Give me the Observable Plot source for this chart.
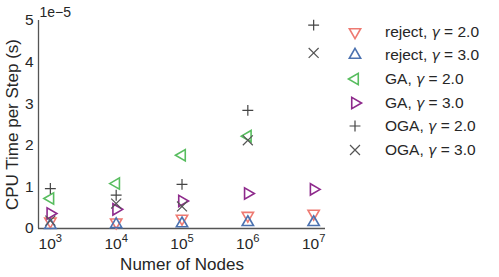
<!DOCTYPE html>
<html>
<head>
<meta charset="utf-8">
<script src="https://cdn.jsdelivr.net/npm/d3@7"></script>
<script src="https://cdn.jsdelivr.net/npm/@observablehq/plot@0.6"></script>
<style>
  html, body { margin: 0; padding: 0; background: #fff; }
  #wrap { position: relative; width: 499px; height: 277px; font-family: "Liberation Sans", Arial, sans-serif; color: #262626; }
  #legend { position: absolute; left: 340px; top: 20px; }
  .row { display: flex; align-items: center; height: 23.6px; font-size: 15.5px; white-space: nowrap; }
  .row svg { width: 30px; height: 24px; margin-right: 15px; }
  .row i { font-family: "DejaVu Sans", sans-serif; font-size: 14px; }
</style>
</head>
<body>
<div id="wrap"><div id="chart"></div><div id="legend"></div></div>
<script>
// ---- data (CPU time per step, in units of 1e-5 s) ----
const nodes = [1e3, 1e4, 1e5, 1e6, 1e7];
const rejectG2 = [0.17, 0.15, 0.24, 0.31, 0.36];
const rejectG3 = [0.08, 0.10, 0.12, 0.15, 0.15];
const gaG2 = [0.72, 1.08, 1.76, 2.22, null];
const gaG3 = [0.36, 0.46, 0.66, 0.84, 0.94];
const ogaG2 = [0.96, 0.80, 1.06, 2.84, 4.89];
const ogaG3 = [0.19, 0.60, 0.53, 2.12, 4.22];
const yTicks = [0, 1, 2, 3, 4, 5];
const seriesNames = ["reject", "reject", "GA", "GA", "OGA", "OGA"];
const gammas = ["2.0", "3.0", "2.0", "3.0", "2.0", "3.0"];

const styles = [
  {symbol: "triangle", rotate: 180, color: "#ee7a72", r: 4.2, sw: 1.6},
  {symbol: "triangle", rotate: 0,   color: "#4c72b0", r: 4.2, sw: 1.6},
  {symbol: "triangle", rotate: -90, color: "#58bd5f", r: 4.2, sw: 1.6},
  {symbol: "triangle", rotate: 90,  color: "#8e2a8c", r: 4.2, sw: 1.6},
  {symbol: "plus",     rotate: 0,   color: "#444444", r: 3.6, sw: 1.2},
  {symbol: "times",    rotate: 0,   color: "#555555", r: 4.6, sw: 1.2}
];
const allValues = [rejectG2, rejectG3, gaG2, gaG3, ogaG2, ogaG3];

const xDomain = [10 ** 2.82, 10 ** 7.18];

const dotMarks = allValues.map((vals, k) => {
  const rows = nodes.map((n, i) => ({n, v: vals[i]})).filter(d => d.v != null);
  const s = styles[k];
  return Plot.dot(rows, {
    x: "n", y: "v", symbol: s.symbol, r: s.r, rotate: s.rotate,
    stroke: s.color, strokeWidth: s.sw, fill: "none"
  });
});

const plot = Plot.plot({
  width: 499,
  height: 277,
  marginLeft: 38,
  marginRight: 174,
  marginTop: 20,
  marginBottom: 49,
  style: {fontFamily: "Liberation Sans, Arial, sans-serif", color: "#262626", background: "#fff", overflow: "visible"},
  x: {type: "log", domain: xDomain},
  y: {domain: [0, 5]},
  marks: [
    Plot.axisY({ticks: yTicks, tickSize: 0, tickPadding: 5, fontSize: 15.5, label: null, tickFormat: d => String(d)}),
    Plot.axisX({ticks: nodes, tickSize: 0, tickPadding: 9, fontSize: 15.5, label: null, className: "xt",
      tickFormat: d => String(Math.round(Math.log10(d)))}),
    Plot.ruleX([xDomain[0]], {stroke: "#555", strokeWidth: 1.3}),
    Plot.ruleY([0], {stroke: "#555", strokeWidth: 1.3}),
    ...dotMarks,
    Plot.text(["1e\u22125"], {frameAnchor: "top-left", textAnchor: "start", lineAnchor: "middle", dx: 1, dy: -8, fontSize: 14}),
    Plot.text(["Numer of Nodes"], {frameAnchor: "bottom", textAnchor: "middle", lineAnchor: "middle", dy: 36, fontSize: 17}),
    Plot.text(["CPU Time per Step (s)"], {frameAnchor: "left", textAnchor: "middle", lineAnchor: "middle", dx: -26, rotate: -90, fontSize: 17})
  ]
});
document.getElementById("chart").appendChild(plot);

// superscript exponents on x tick labels
d3.select(plot).selectAll(".xt text").each(function () {
  const t = d3.select(this);
  const e = t.text();
  t.text(null);
  t.append("tspan").text("10");
  t.append("tspan").attr("dy", "-0.55em").attr("font-size", "0.72em").text(e);
});

// legend
const legend = d3.select("#legend");
styles.forEach((s, k) => {
  const row = legend.append("div").attr("class", "row");
  const svg = row.append("svg");
  const sym = {triangle: d3.symbolTriangle, plus: d3.symbolPlus, times: d3.symbolTimes}[s.symbol];
  svg.append("path")
    .attr("d", d3.symbol(sym, Math.PI * s.r * s.r)())
    .attr("transform", `translate(15,12) rotate(${s.rotate})`)
    .attr("fill", "none").attr("stroke", s.color).attr("stroke-width", s.sw);
  row.append("span").html(`${seriesNames[k]}, <i>γ</i> = ${gammas[k]}`);
});
</script>
</body>
</html>
